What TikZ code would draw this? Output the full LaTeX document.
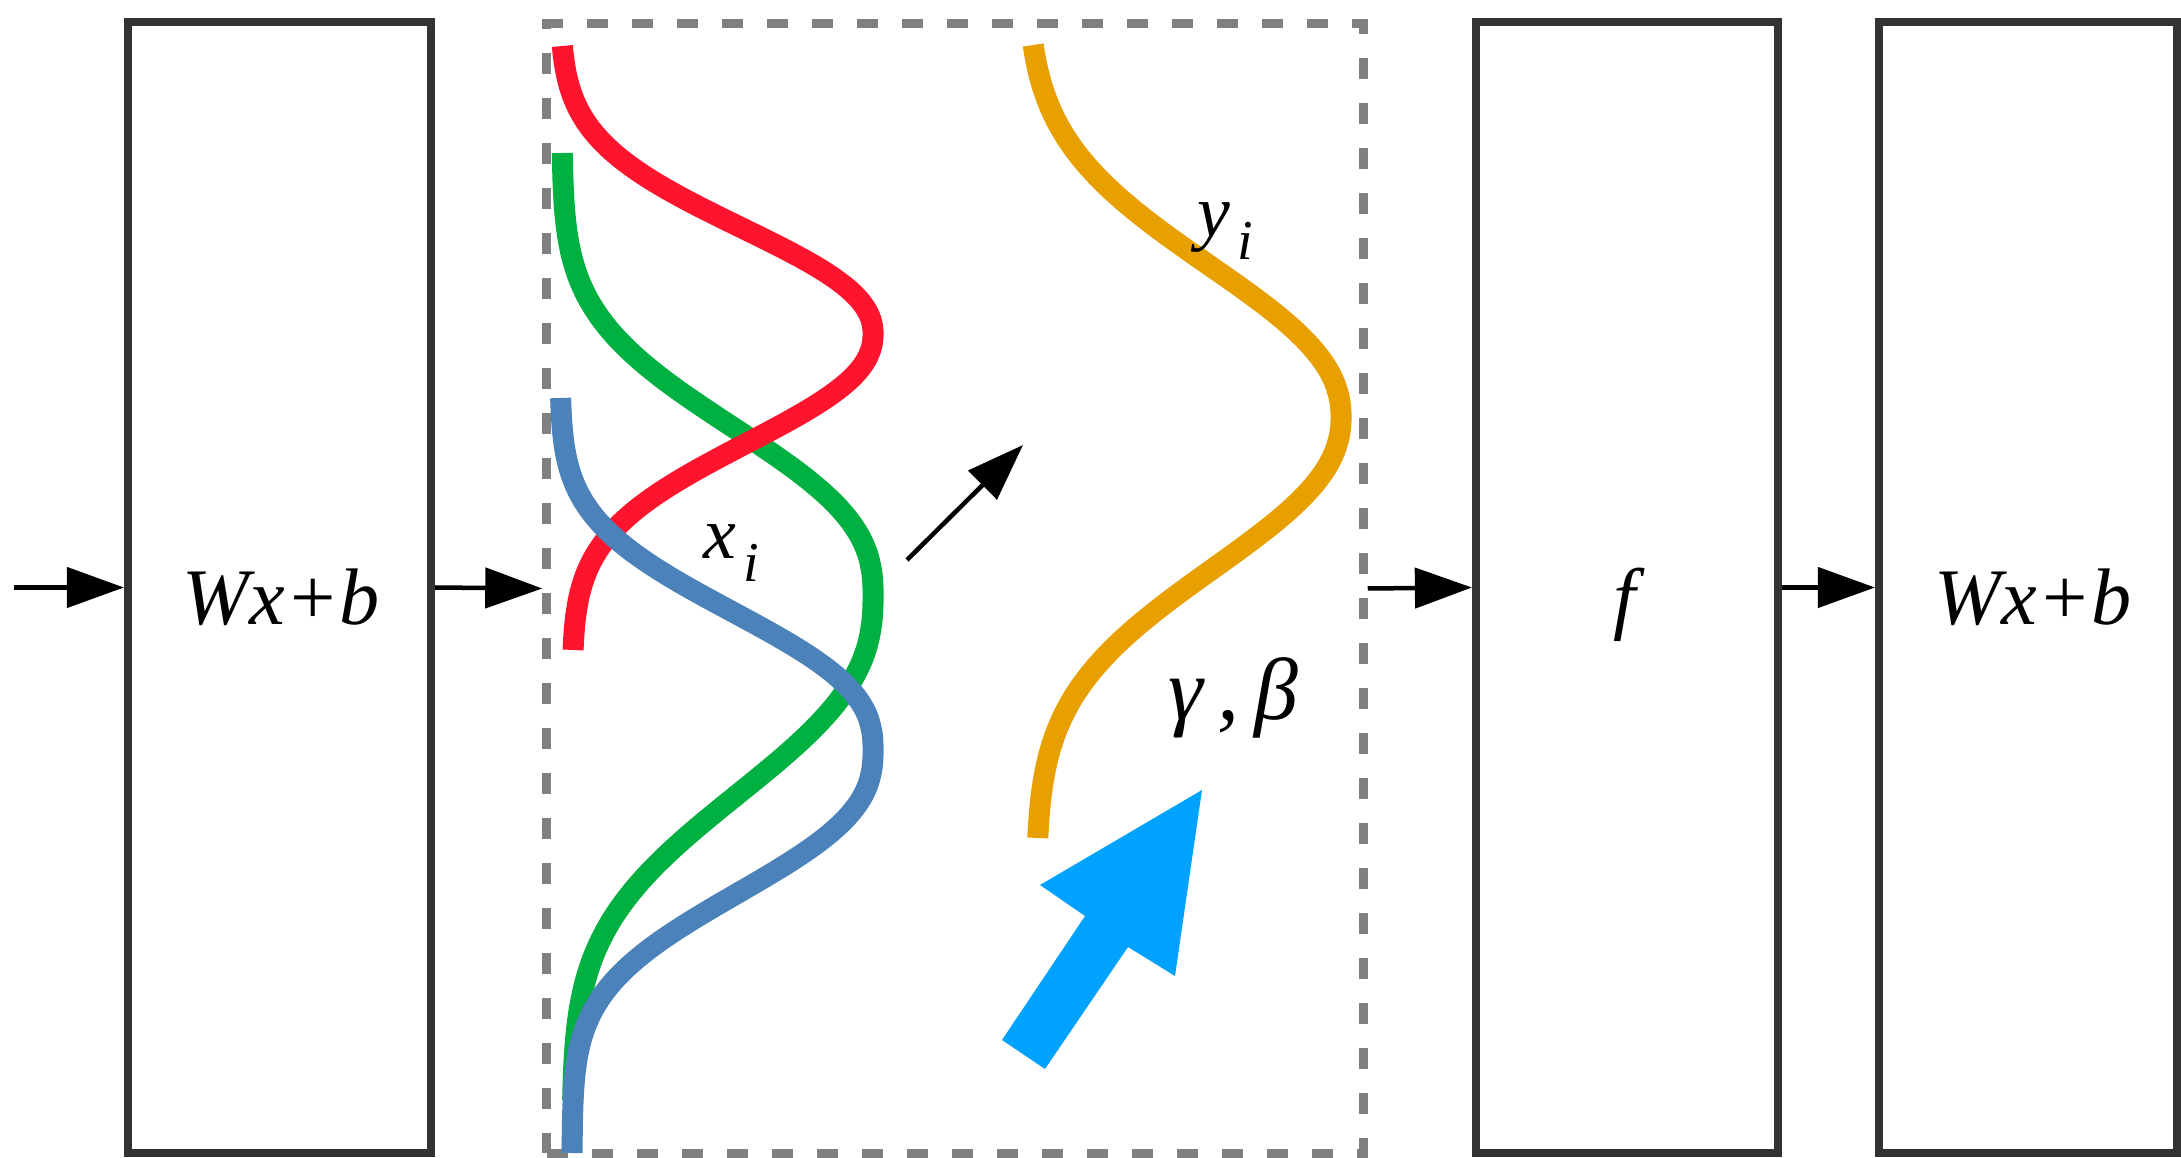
\documentclass[tikz,border=0pt]{standalone}
\usepackage{fontspec}
\setmainfont{Liberation Serif}
\usetikzlibrary{arrows.meta}
\definecolor{boxgray}{RGB}{51,51,51}
\definecolor{dashgray}{RGB}{128,128,128}
\definecolor{cred}{RGB}{255,20,45}
\definecolor{cgreen}{RGB}{0,176,64}
\definecolor{cblue}{RGB}{76,130,186}
\definecolor{corange}{RGB}{232,160,0}
\definecolor{cbig}{RGB}{0,162,255}
\newcommand\sublbl[2]{\textit{#1}\hspace{0.1em}\raisebox{-0.3em}{\fontsize{16}{16}\selectfont\textit{#2}}}
\begin{document}
\begin{tikzpicture}[x=0.01cm,y=-0.01cm,
  blockbox/.style={draw=boxgray, line width=0.08cm, minimum width=3.03cm, minimum height=11.31cm, inner sep=0pt},
  dbox/.style={draw=dashgray, line width=0.09cm, dash pattern=on 0.21cm off 0.24cm, minimum width=8.16cm, minimum height=11.29cm, inner sep=0pt},
  arr/.style={draw=black, line width=0.045cm, -{Triangle[length=0.57cm,width=0.40cm]}},
  bigtxt/.style={font=\fontsize{22.8}{27}\selectfont\itshape, inner sep=0pt, anchor=base},
  smalltxt/.style={font=\fontsize{21}{25}\selectfont, inner sep=0pt, anchor=base},
  distcurve/.style={line width=0.21cm, line join=round},
  bigarrow/.style={fill=cbig}]
\useasboundingbox (0,0) rectangle (2181,1158);

% blocks
\node[blockbox] (b1) at (279.5,587.5) {};
\node[dbox] (bn) at (955,588.5) {};
\node[blockbox, minimum width=3.02cm] (bf) at (1627,587.5) {};
\node[blockbox, minimum width=2.98cm] (b3) at (2028,587.5) {};

% block labels
\node[bigtxt] (t1) at (281,625) {Wx+b};
\node[bigtxt] (tf) at (1625,625) {f};
\node[bigtxt] (t3) at (2033,625) {Wx+b};

% connectors
\coordinate (in) at (14,587.5);
\draw[arr] (in) -- (b1.west);
\draw[arr] (b1.east) -- (bn.west);
\draw[arr] (bn.east) -- (bf.west);
\draw[arr] (bf.east) -- (b3.west);

% distributions
\draw[distcurve, draw=cgreen] plot[domain=153:595, samples=100] ({562+311*exp(0-pow((595-\x)/206+0.0001,2.5))},\x)
  -- plot[domain=595:1100, samples=120] ({572+301*exp(0-pow((\x-595)/245+0.0001,2.5))},\x);
\draw[distcurve, draw=cred] plot[domain=46:334, samples=100] ({560+313*exp(0-pow((334-\x)/140+0.0001,2.2))},\x)
  -- plot[domain=334:650, samples=100] ({572+301*exp(0-pow((\x-334)/144+0.0001,2.2))},\x);
\draw[distcurve, draw=cblue] plot[domain=398:750, samples=100] ({560+313*exp(0-pow((750-\x)/170+0.0001,2.5))},\x)
  -- plot[domain=750:1153, samples=100] ({572+301*exp(0-pow((\x-750)/176+0.0001,2.5))},\x);
\draw[distcurve, draw=corange] plot[domain=45:417, samples=100] ({1027+314*exp(0-pow((417-\x)/200+0.0001,2.2))},\x)
  -- plot[domain=417:838, samples=100] ({1036+305*exp(0-pow((\x-417)/200+0.0001,2.2))},\x);

% labels
\node[smalltxt] (xi) at (731,559) {\sublbl{x}{i}};
\node[smalltxt] (yi) at (1225,237) {\sublbl{y}{i}};
\node[bigtxt, font=\fontsize{25}{29}\selectfont\itshape] (gb) at (1233,719) {γ\,,\,β};

% small arrow
\coordinate (s1) at (907,560);
\coordinate (s2) at (1023,445);
\draw[arr] (s1) -- (s2);

% big blue arrow
\fill[bigarrow] (1002,1040) -- (1045,1069) -- (1128,947) -- (1175,976) -- (1202,790) -- (1040,885) -- (1085,916) -- cycle;
\end{tikzpicture}
\end{document}
